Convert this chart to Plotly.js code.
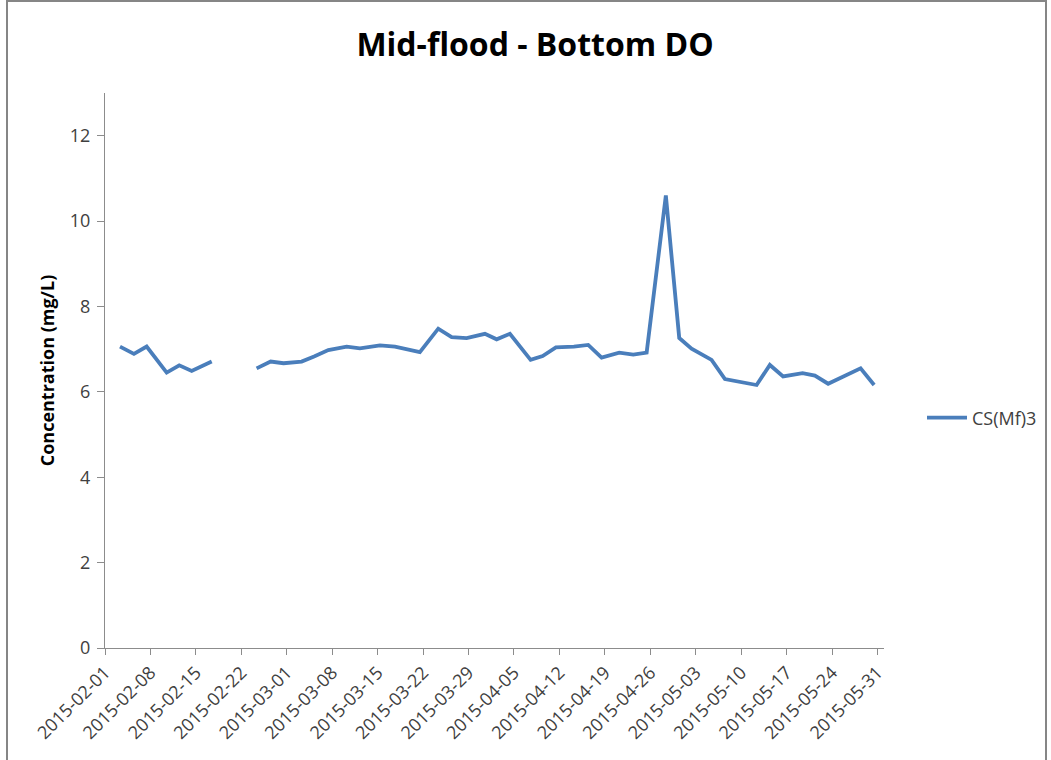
<!DOCTYPE html>
<html>
<head>
<meta charset="utf-8">
<script src="https://cdn.plot.ly/plotly-3.0.1.min.js"></script>
<style>html,body{margin:0;padding:0;background:#fff;}#chart{width:1051px;height:760px;}</style>
</head>
<body>
<div id="chart"></div>
<script>
// Sampling dates (with approximate mid-flood time) and bottom DO values
const sampleDates = [
  '2015-02-03 07:30', '2015-02-05 11:00', '2015-02-07 10:00', '2015-02-10 12:00',
  '2015-02-12 10:30', '2015-02-14 08:30', '2015-02-17 10:30',
  '2015-02-19 10:00', '2015-02-21 10:00',
  '2015-02-24 08:30', '2015-02-26 12:30', '2015-02-28 12:00', '2015-03-03 07:00',
  '2015-03-05 05:00', '2015-03-07 09:30', '2015-03-10 05:30', '2015-03-12 06:30',
  '2015-03-15 08:30', '2015-03-17 16:00', '2015-03-21 12:00', '2015-03-24 08:00',
  '2015-03-26 09:30', '2015-03-28 17:00', '2015-03-31 12:30', '2015-04-02 08:00',
  '2015-04-04 09:00',
  '2015-04-07 13:30', '2015-04-09 10:00', '2015-04-11 11:00', '2015-04-14 05:30',
  '2015-04-16 10:30', '2015-04-18 12:00', '2015-04-21 05:00', '2015-04-23 09:00',
  '2015-04-25 10:30',
  '2015-04-28 09:30', '2015-04-30 11:00', '2015-05-02 08:30', '2015-05-05 10:30',
  '2015-05-07 12:00', '2015-05-12 09:00', '2015-05-14 10:00', '2015-05-16 11:00',
  '2015-05-19 11:00', '2015-05-21 08:30', '2015-05-23 09:30', '2015-05-28 09:30',
  '2015-05-30 11:30'
];
const doValues = [
  7.06, 6.89, 7.06, 6.45, 6.62, 6.49, 6.71,
  null, null,
  6.55, 6.71, 6.67, 6.71, 6.83, 6.98, 7.06, 7.02, 7.09, 7.06, 6.93, 7.48, 7.28,
  7.26, 7.36, 7.23, 7.36,
  6.75, 6.84, 7.04, 7.06, 7.10, 6.80, 6.92, 6.87, 6.92,
  10.60, 7.26, 7.01, 6.75, 6.30, 6.16, 6.63, 6.36, 6.44, 6.38, 6.19, 6.55, 6.16
];
const seriesName = 'CS(Mf)3';
const chartTitle = 'Mid-flood - Bottom DO';
const yTitle = 'Concentration (mg/L)';
const xTickDates = [
  '2015-02-01', '2015-02-08', '2015-02-15', '2015-02-22', '2015-03-01', '2015-03-08',
  '2015-03-15', '2015-03-22', '2015-03-29', '2015-04-05', '2015-04-12', '2015-04-19',
  '2015-04-26', '2015-05-03', '2015-05-10', '2015-05-17', '2015-05-24', '2015-05-31'
];
const yTickVals = [0, 2, 4, 6, 8, 10, 12];

const FONT = 'Open Sans, Noto Sans, sans-serif';
const AXIS = '#8c8c8c';
const TXT = '#404040';

const trace = {
  x: sampleDates,
  y: doValues,
  type: 'scatter',
  mode: 'lines',
  name: seriesName,
  connectgaps: false,
  line: {color: '#4a7ebb', width: 3.8}
};

// outer chart-area border (pixel -> paper)
const L = 105, R = 884, T = 93, B = 648;
const px = v => (v - L) / (R - L);
const py = v => (B - v) / (B - T);

const layout = {
  width: 1051, height: 760,
  margin: {l: L, r: 1051 - R, t: T, b: 760 - B, pad: 0},
  paper_bgcolor: '#ffffff', plot_bgcolor: '#ffffff',
  font: {family: FONT, color: TXT},
  title: {
    text: '<b>' + chartTitle + '</b>',
    font: {family: FONT, size: 32, color: '#000000'},
    x: px(535), xanchor: 'center', xref: 'paper',
    y: 1 - 45 / 760, yanchor: 'middle', yref: 'container'
  },
  showlegend: true,
  legend: {
    xref: 'container', yref: 'container',
    x: 922 / 1051, xanchor: 'left', y: 1 - 418 / 760, yanchor: 'middle',
    font: {family: FONT, size: 18, color: TXT},
    bgcolor: 'rgba(0,0,0,0)', itemwidth: 40
  },
  xaxis: {
    type: 'date',
    range: ['2015-02-01', '2015-06-01'],
    tickmode: 'array',
    tickvals: xTickDates,
    ticktext: xTickDates,
    tickangle: -45,
    ticks: 'outside', ticklen: 6, tickcolor: AXIS, tickwidth: 1,
    tickfont: {family: FONT, size: 18, color: TXT},
    showline: true, linecolor: AXIS, linewidth: 1,
    showgrid: false, zeroline: false, automargin: false
  },
  yaxis: {
    range: [0, 13],
    tickmode: 'array',
    tickvals: yTickVals,
    ticks: 'outside', ticklen: 7, tickcolor: AXIS, tickwidth: 1,
    tickfont: {family: FONT, size: 18, color: TXT},
    ticklabelstandoff: 3,
    showline: true, linecolor: AXIS, linewidth: 1,
    showgrid: false, zeroline: false, automargin: false,
    title: {text: '<b>' + yTitle + '</b>', font: {family: FONT, size: 18, color: '#000000'}, standoff: 10}
  },
  shapes: [{
    type: 'rect', xref: 'paper', yref: 'paper',
    x0: px(7), x1: px(1046), y0: py(790), y1: py(1),
    line: {color: '#868686', width: 2}, fillcolor: 'rgba(0,0,0,0)', layer: 'below'
  }]
};

Plotly.newPlot('chart', [trace], layout, {staticPlot: true, displayModeBar: false});
</script>
</body>
</html>
